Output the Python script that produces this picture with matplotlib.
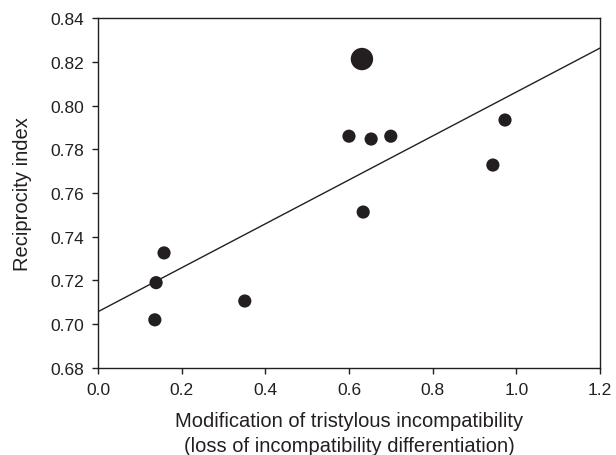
import matplotlib
matplotlib.use("Agg")
import matplotlib.pyplot as plt

x_vals = [0.136, 0.139, 0.158, 0.351, 0.631, 0.600, 0.653, 0.700, 0.634, 0.944, 0.973]
y_vals = [0.702, 0.719, 0.7326, 0.7106, 0.8213, 0.786, 0.7847, 0.786, 0.7513, 0.7728, 0.7934]
sizes = [90, 90, 90, 90, 260, 90, 90, 90, 90, 90, 90]
line_x = [0.0, 1.2]
line_y = [0.7057, 0.8263]
xticks = [0.0, 0.2, 0.4, 0.6, 0.8, 1.0, 1.2]
yticks = [0.68, 0.70, 0.72, 0.74, 0.76, 0.78, 0.80, 0.82, 0.84]

plt.rcParams['font.family'] = ['Liberation Sans', 'DejaVu Sans']
fig = plt.figure(figsize=(6.16, 4.56), dpi=100)
ax = fig.add_axes([0.159, 0.191, 0.815, 0.767])
col = '#231f20'
ax.plot(line_x, line_y, color=col, lw=1.0, zorder=2)
ax.scatter(x_vals, y_vals, s=sizes, color=col, edgecolors='none', zorder=3)
ax.set_xlim(0, 1.2)
ax.set_ylim(0.68, 0.84)
ax.set_xticks(xticks)
ax.set_xticklabels([f"{v:.1f}" for v in xticks])
ax.set_yticks(yticks)
ax.set_yticklabels([f"{v:.2f}" for v in yticks])
ax.tick_params(direction='out', length=4.5, width=1, labelsize=12.5, colors=col, pad=5.5)
for s in ax.spines.values():
    s.set_color(col)
    s.set_linewidth(1.0)
ax.set_xlabel("Modification of tristylous incompatibility\n(loss of incompatibility differentiation)",
              fontsize=14.5, color=col, labelpad=10, linespacing=1.4)
ax.set_ylabel("Reciprocity index", fontsize=14.5, color=col, labelpad=13)
fig.savefig("out.png", dpi=100)
